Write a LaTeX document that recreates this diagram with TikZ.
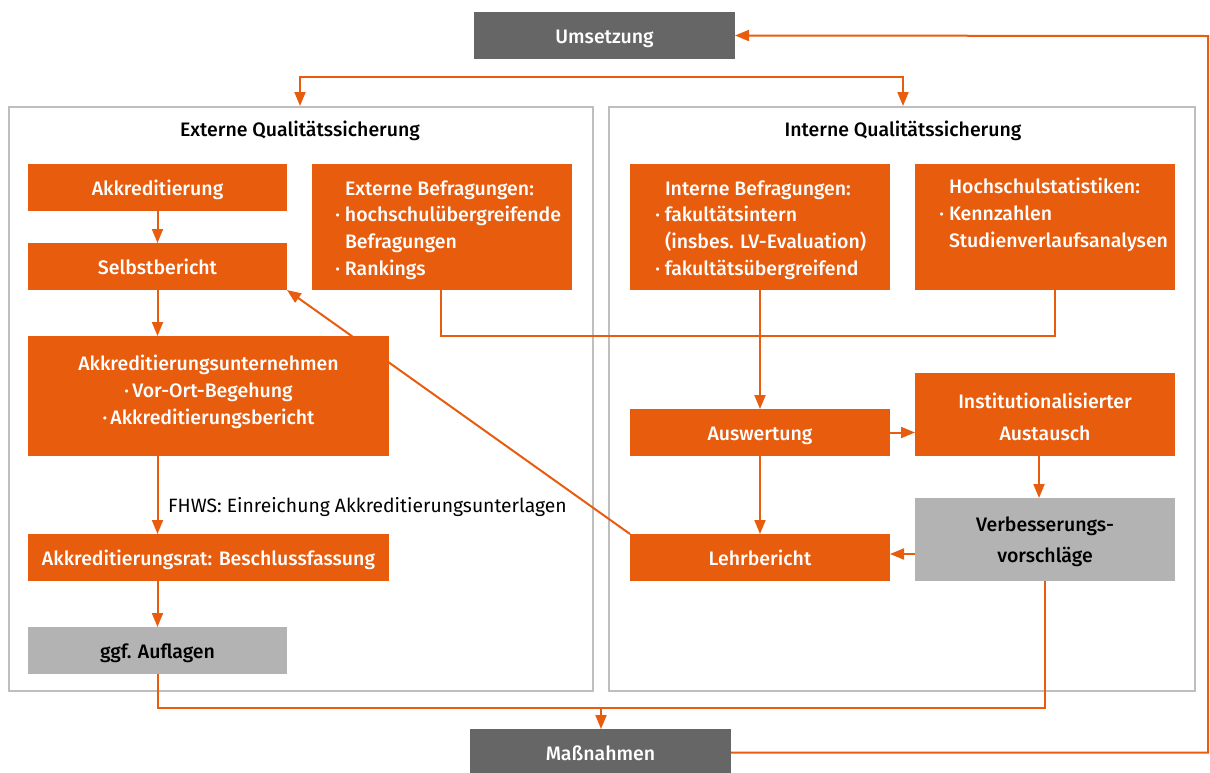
\documentclass[tikz,border=0pt]{standalone}
\usepackage{fontspec}
\setmainfont{Fira Sans}[BoldFont={Fira Sans Medium}]
\usetikzlibrary{arrows.meta}
\definecolor{orng}{RGB}{232,92,14}
\definecolor{dgrey}{RGB}{102,102,102}
\definecolor{lgrey}{RGB}{179,179,179}
\definecolor{fgrey}{RGB}{190,190,190}
\newcommand\boxfont{\fontsize{19.5}{26.7}\selectfont\bfseries}
\newcommand\bul{\llap{·\hspace{5pt}}}
\begin{document}
\begin{tikzpicture}[x=1pt,y=-1pt,
  base/.style={inner sep=0pt, outer sep=0pt, align=center, font=\boxfont},
  one/.style={text height=15pt, text depth=0pt},
  obox/.style={base, fill=orng, text=white},
  gbox/.style={base, fill=lgrey, text=black},
  dbox/.style={base, fill=dgrey, text=white},
  frame/.style={draw=fgrey, line width=2pt, inner sep=0pt},
  txt/.style={inner sep=0pt, outer sep=0pt, font=\boxfont},
  conn/.style={draw=orng, line width=2pt},
  tip/.tip={Triangle[length=14pt,width=11pt]},
  arr/.style={conn, -tip},
]
\useasboundingbox (0,0) rectangle (1210,772);

% frames
\node[frame, minimum width=584pt, minimum height=584pt] (ext) at (301,399) {};
\node[frame, minimum width=586pt, minimum height=584pt] (int) at (902,399) {};
\node[txt] (extt) at (300,131) {Externe Qualitätssicherung};
\node[txt] (intt) at (903,131) {Interne Qualitätssicherung};

% top / bottom
\node[dbox, one, minimum width=261pt, minimum height=47pt] (ums) at (604.5,35.5) {Umsetzung};
\node[dbox, one, minimum width=261pt, minimum height=47pt] (mass) at (600.5,752.5) {Maßnahmen};

% left column
\node[obox, one, minimum width=259pt, minimum height=47pt] (akk) at (157.5,187.5) {Akkreditierung};
\node[obox, one, minimum width=259pt, minimum height=47pt] (selbst) at (157.5,266.5) {Selbstbericht};
\node[obox, minimum width=260pt, minimum height=126pt] (extbef) at (442,227) {};
\node[txt, text=white, anchor=west, align=left] (extbeft) at (345,230) {Externe Befragungen:\\\bul hochschulübergreifende\\Befragungen\\\bul Rankings};
\node[obox, minimum width=361pt, minimum height=120pt] (akkunt) at (208.5,396) {};
\node[txt, text=white, align=center] (akkuntt) at (208.5,392) {Akkreditierungsunternehmen\\·\,Vor-Ort-Begehung\\·\,Akkreditierungsbericht};
\node[obox, one, minimum width=361pt, minimum height=47pt] (akkrat) at (208.5,557.5) {Akkreditierungsrat: Beschlussfassung};
\node[gbox, one, minimum width=259pt, minimum height=47pt] (aufl) at (157.5,650.5) {ggf. Auflagen};
\node[inner sep=0pt, anchor=west, font=\fontsize{19.3}{22}\selectfont] (fhws) at (168,507) {FHWS: Einreichung Akkreditierungsunterlagen};

% right column
\node[obox, minimum width=260pt, minimum height=126pt] (intbef) at (760,227) {};
\node[txt, text=white, anchor=west, align=left] (intbeft) at (665,230) {Interne Befragungen:\\\bul fakultätsintern\\(insbes. LV-Evaluation)\\\bul fakultätsübergreifend};
\node[obox, minimum width=260pt, minimum height=126pt] (hstat) at (1045,227) {};
\node[txt, text=white, anchor=west, align=left] (hstatt) at (949,230) {Hochschulstatistiken:\\\bul Kennzahlen\\Studienverlaufsanalysen\\\strut};
\node[obox, one, minimum width=260pt, minimum height=47pt] (ausw) at (760,432.5) {Auswertung};
\node[obox, minimum width=260pt, minimum height=83pt] (inst) at (1045,414.5) {};
\node[txt, text=white, align=center, font=\fontsize{19.5}{32}\selectfont\bfseries] (instt) at (1045,417) {Institutionalisierter\\Austausch};
\node[obox, one, minimum width=260pt, minimum height=47pt] (lehr) at (760,557.5) {Lehrbericht};
\node[gbox, minimum width=260pt, minimum height=83pt] (verb) at (1045,539.5) {};
\node[txt, text=black, align=center, font=\fontsize{19.5}{31}\selectfont\bfseries] (verbt) at (1045,542) {Verbesserungs-\\vorschläge};

% connectors
\coordinate (tl) at (300,77);
\coordinate (tr) at (903,77);
\draw[conn, tip-tip] (ext.north -| tl) -- (tl) -- (tr) -- (int.north -| tr);

\draw[arr] (akk.south) -- (selbst.north);
\draw[arr] (selbst.south) -- (selbst.south |- akkunt.north);
\draw[arr] (selbst.south |- akkunt.south) -- (selbst.south |- akkrat.north);
\draw[arr] (selbst.south |- akkrat.south) -- (aufl.north);

\coordinate (bl) at (157.5,708);
\coordinate (bj) at (601,708);
\coordinate (br) at (1045,708);
\draw[conn] (aufl.south) -- (bl) -- (br) -- (verb.south);
\draw[arr] (bj) -- (bj |- mass.north);

\coordinate (ml) at (441,336);
\coordinate (mr) at (1055,336);
\draw[conn] (extbef.south -| ml) -- (ml) -- (mr) -- (hstat.south -| mr);

\draw[arr] (intbef.south) -- (ausw.north);
\draw[arr] (ausw.east) -- (ausw.east -| inst.west);
\coordinate (iv) at (1039,456);
\draw[arr] (inst.south -| iv) -- (verb.north -| iv);
\draw[arr] (ausw.south) -- (lehr.north);
\coordinate (vl) at (900,554);
\draw[arr] (verb.west |- vl) -- (lehr.east |- vl);
\draw[arr] (lehr.north west) -- (selbst.south east);

\coordinate (rb) at (1208,752.5);
\coordinate (rt) at (1208,36);
\draw[arr] (mass.east) -- (rb) -- (rt) -- (ums.east);
\end{tikzpicture}
\end{document}
